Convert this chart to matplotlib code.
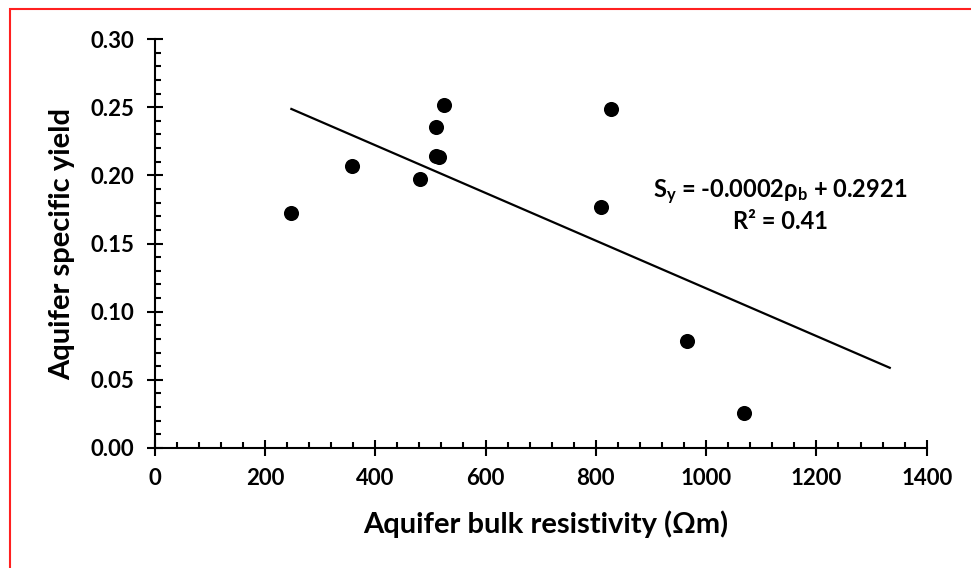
import numpy as np
import matplotlib
matplotlib.use("Agg")
import matplotlib.pyplot as plt
from matplotlib.ticker import MultipleLocator, FormatStrFormatter
from matplotlib.patches import Rectangle

plt.rcParams['font.family'] = ['Lato', 'DejaVu Sans']
plt.rcParams['font.weight'] = 'bold'
plt.rcParams['mathtext.fontset'] = 'custom'
plt.rcParams['mathtext.rm'] = 'Lato:bold'
plt.rcParams['mathtext.it'] = 'Lato:bold'
plt.rcParams['mathtext.bf'] = 'Lato:bold'

# bulk resistivity (ohm m) vs specific yield
resistivity = [248, 358, 482, 510, 516, 511, 525, 827, 809, 966, 1068]
spec_yield = [0.1726, 0.2069, 0.1971, 0.2140, 0.2137, 0.2357, 0.2514, 0.2487, 0.1770, 0.0783, 0.0260]

# linear trend (extended forward past the last sample)
slope = -0.000175
intercept = 0.2921
trend_x = [248, 1333]

fig = plt.figure(figsize=(9.71, 5.68), dpi=100)
ax = fig.add_axes([0.1592, 0.2113, 0.7952, 0.7200])

ax.scatter(resistivity, spec_yield, s=118, color='black', zorder=3, linewidths=0)
tx = np.array(trend_x)
ax.plot(tx, slope * tx + intercept, color='black', linewidth=1.6, zorder=2)

ax.set_xlim(0, 1400)
ax.set_ylim(0, 0.30)
ax.xaxis.set_major_locator(MultipleLocator(200))
ax.xaxis.set_minor_locator(MultipleLocator(40))
ax.yaxis.set_major_locator(MultipleLocator(0.05))
ax.yaxis.set_minor_locator(MultipleLocator(0.01))
ax.yaxis.set_major_formatter(FormatStrFormatter('%.2f'))

for s in ['top', 'right']:
    ax.spines[s].set_visible(False)
for s in ['left', 'bottom']:
    ax.spines[s].set_linewidth(1.5)

ax.tick_params(which='major', direction='inout', length=11, width=1.5, pad=9, labelsize=16)
ax.tick_params(which='minor', direction='in', length=4.5, width=1.5)
for lab in ax.get_xticklabels() + ax.get_yticklabels():
    lab.set_fontweight('bold')

ax.text(1134, 0.1878, r'S$_{y}$ = -0.0002ρ$_{b}$ + 0.2921', ha='center', va='center',
        fontsize=17, fontweight='bold')
ax.text(1134, 0.1658, 'R² = 0.41', ha='center', va='center', fontsize=17, fontweight='bold')

fig.text(546 / 971, 1 - 524 / 568, 'Aquifer bulk resistivity (Ωm)', ha='center', va='center',
         fontsize=21, fontweight='bold')
fig.text(62 / 971, 1 - 244 / 568, 'Aquifer specific yield', ha='center', va='center',
         rotation=90, fontsize=21, fontweight='bold')

# red frame, only top and left edges fall inside the canvas
fig.patches.append(Rectangle((9.5 / 971, -0.1), 1.2, 1.1 - 9.5 / 568, transform=fig.transFigure,
                             fill=False, edgecolor='#ff2020', linewidth=1.5))

fig.savefig('out.png', dpi=100)
